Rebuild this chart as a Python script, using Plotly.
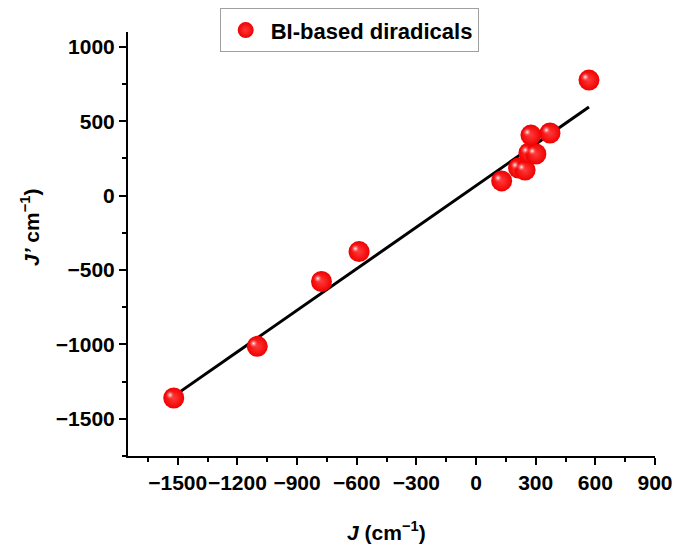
import numpy as np
import plotly.graph_objects as go

# Data
J_values = [-1520, -1100, -777, -588, 129, 214, 247, 266, 301, 276, 372, 568]
Jp_values = [-1360, -1013, -577, -376, 99, 186, 172, 287, 280, 407, 421, 777]
series_name = "BI-based diradicals"

x_range = [-1750, 900]
y_range = [-1750, 1100]
x_ticks = [-1500, -1200, -900, -600, -300, 0, 300, 600, 900]
y_ticks = [-1500, -1000, -500, 0, 500, 1000]

FONT = "Liberation Sans, Arial, sans-serif"

# linear fit
slope, intercept = np.polyfit(J_values, Jp_values, 1)
fit_x = np.array([min(J_values), max(J_values)])
fit_y = slope * fit_x + intercept

# highlight offset (small shift up-left of sphere centre), relative to axis span
hx = -0.007 * (x_range[1] - x_range[0])
hy = 0.007 * (y_range[1] - y_range[0])

fig = go.Figure()
fig.add_trace(go.Scatter(
    x=fit_x, y=fit_y, mode="lines",
    line=dict(color="black", width=3), showlegend=False, hoverinfo="skip"))
fig.add_trace(go.Scatter(
    x=J_values, y=Jp_values, mode="markers", name=series_name,
    marker=dict(size=21, color="#f00000", line=dict(width=0),
                gradient=dict(type="radial", color="#ff3a3a"))))
fig.add_trace(go.Scatter(
    x=[v + hx for v in J_values], y=[v + hy for v in Jp_values], mode="markers",
    marker=dict(size=9, color="rgba(255,60,60,0)", line=dict(width=0),
                gradient=dict(type="radial", color="rgba(255,255,255,1)")),
    showlegend=False, hoverinfo="skip"))

axis_common = dict(
    showgrid=False, zeroline=False, showline=True, linecolor="black", linewidth=2,
    ticks="outside", ticklen=7, tickwidth=2, tickcolor="black",
    tickfont=dict(family=FONT, size=21, color="black", weight="bold"),
    mirror=False, tickangle=0, automargin=False,
)

fig.update_xaxes(range=x_range, tickvals=x_ticks,
                 ticktext=[str(t).replace("-", "\u2212") for t in x_ticks],
                 minor=dict(dtick=150, tick0=0, ticks="outside", ticklen=4,
                            tickwidth=2, tickcolor="black"),
                 ticklabelstandoff=0, ticklabeloverflow="allow", **axis_common)
fig.update_yaxes(range=y_range, tickvals=y_ticks,
                 ticktext=[str(t).replace("-", "\u2212") for t in y_ticks],
                 minor=dict(dtick=250, tick0=0, ticks="outside", ticklen=4,
                            tickwidth=2, tickcolor="black"),
                 ticklabelstandoff=0, **axis_common)

fig.add_annotation(
    xref="paper", yref="paper", x=0.49, y=-0.178, showarrow=False,
    text="<i>J</i> (cm<sup>\u22121</sup>)",
    font=dict(family=FONT, size=21, color="black", weight="bold"),
    xanchor="center", yanchor="middle")
fig.add_annotation(
    xref="paper", yref="paper", x=-0.186, y=0.54, showarrow=False,
    text="<i>J\u2019</i> cm<sup>\u22121</sup>)", textangle=-90,
    font=dict(family=FONT, size=21, color="black", weight="bold"),
    xanchor="center", yanchor="middle")

fig.update_layout(
    width=673, height=544,
    margin=dict(l=128, r=18, t=32, b=88, autoexpand=False),
    paper_bgcolor="white", plot_bgcolor="white",
    showlegend=True,
    legend=dict(x=0.174, y=1.056, xanchor="left", yanchor="top",
                bordercolor="#a0a0a0", borderwidth=1, bgcolor="white",
                font=dict(family=FONT, size=22, color="black", weight="bold"),
                tracegroupgap=0, itemwidth=40),
)

fig.write_html("out.html", config={"displayModeBar": False},
               post_script="document.body.style.margin='0';document.body.style.overflow='hidden';")
